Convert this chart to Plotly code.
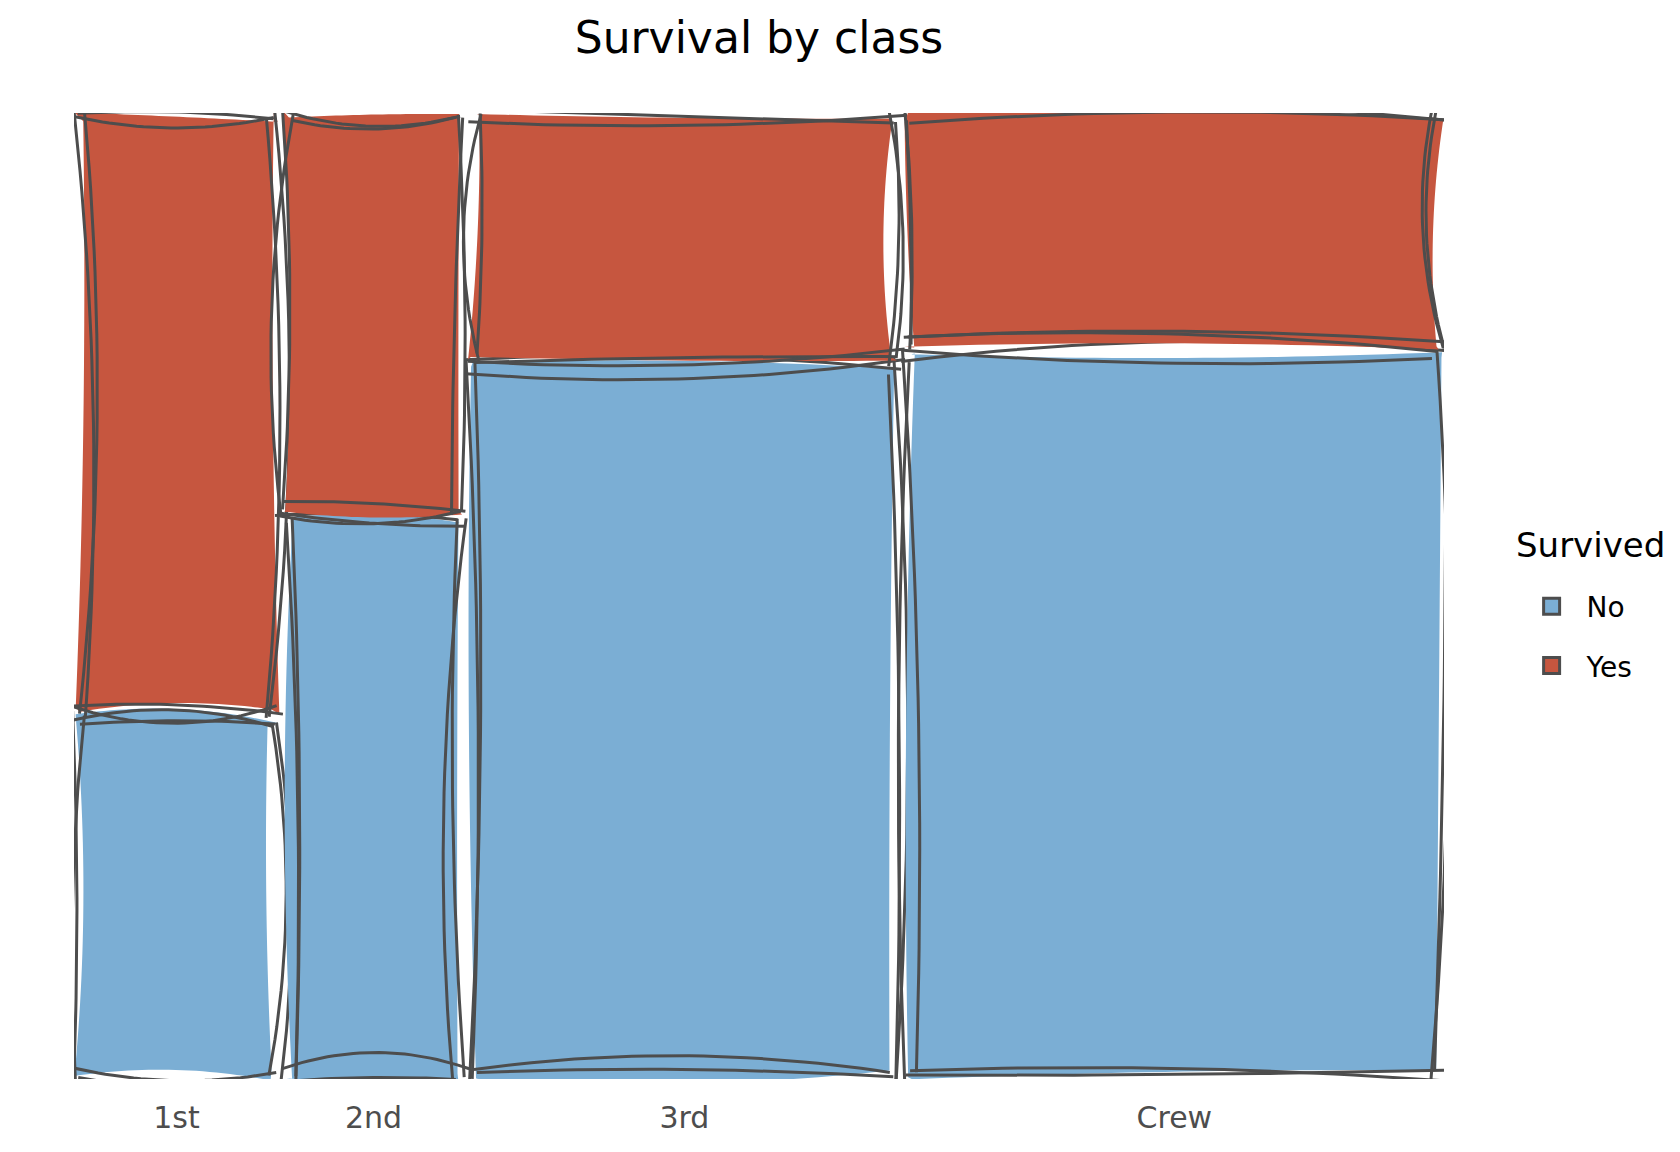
import numpy as np
import plotly.graph_objects as go

# %% Titanic counts by class and survival
classes = ["1st", "2nd", "3rd", "Crew"]
survived_no = [122, 167, 528, 673]
survived_yes = [203, 118, 178, 212]
groups = ["No", "Yes"]

colours = {"No": "#7BAED4", "Yes": "#C6563F"}
ink = "#4D4D4D"

# %% page geometry (pixels) used to scale the hand-drawn wobble
W, H = 1680, 1152
margin = dict(l=66, r=244, t=105, b=81, autoexpand=False)
SX = W - margin["l"] - margin["r"]
SY = H - margin["t"] - margin["b"]
gap_x, gap_y = 0.011, 0.012


def noise(k):
    # deterministic hash wiggle in [-1, 1] (style only, not data)
    v = np.sin(k * 78.233 + 12.9898) * 43758.5453
    return 2 * (v - np.floor(v)) - 1


def edge(p0, p1, k, bow=18.0, jit=8.0, over=6.0, n=30):
    (x0, y0), (x1, y1) = p0, p1
    dx, dy = x1 - x0, y1 - y0
    ln = np.hypot(dx, dy)
    ux, uy = dx / ln, dy / ln
    # endpoints jittered and pushed a little past the corners
    s0 = over * abs(noise(k + 5))
    s1 = over * abs(noise(k + 6))
    x0, y0 = x0 - ux * s0 + jit * noise(k), y0 - uy * s0 + jit * noise(k + 1)
    x1, y1 = x1 + ux * s1 + jit * noise(k + 2), y1 + uy * s1 + jit * noise(k + 3)
    dx, dy = x1 - x0, y1 - y0
    ln = np.hypot(dx, dy)
    nx, ny = -dy / ln, dx / ln
    b = bow * noise(k + 4)
    t = np.linspace(0, 1, n)
    off = 4 * t * (1 - t) * b
    return x0 + dx * t + nx * off, y0 + dy * t + ny * off


def sketch(x0, x1, y0, y1, seed):
    # rectangle in data units -> pixel space -> wobbly strokes back in data units
    X0, X1, Y0, Y1 = x0 * SX, x1 * SX, y0 * SY, y1 * SY
    corners = [(X0, Y0), (X1, Y0), (X1, Y1), (X0, Y1)]
    passes = []
    for p in range(3):
        xs, ys = [], []
        for e in range(4):
            a, b = corners[e], corners[(e + 1) % 4]
            k = seed * 97 + p * 31 + e * 7
            if p == 0:
                ex, ey = edge(a, b, k, bow=10.0, jit=6.0, over=0.0)
            else:
                ex, ey = edge(a, b, k)
            xs.append(ex / SX)
            ys.append(ey / SY)
        passes.append((xs, ys))
    return passes


# %% mosaic layout from the counts
totals = np.array(survived_no) + np.array(survived_yes)
widths = totals / totals.sum() * (1 - gap_x * (len(classes) - 1))
lefts = np.concatenate([[0], np.cumsum(widths + gap_x)[:-1]])
frac_no = np.array(survived_no) / totals

fig = go.Figure()
seed = 0
for i, c in enumerate(classes):
    x0, x1 = lefts[i], lefts[i] + widths[i]
    h_no = frac_no[i] * (1 - gap_y)
    boxes = {"No": (0, h_no), "Yes": (h_no + gap_y, 1)}
    for g in groups:
        y0, y1 = boxes[g]
        seed += 1
        passes = sketch(x0, x1, y0, y1, seed)
        # fill follows a gentler path, strokes are the two rough passes
        fx = np.concatenate(passes[0][0])
        fy = np.concatenate(passes[0][1])
        fig.add_trace(go.Scatter(x=fx, y=fy, fill="toself", fillcolor=colours[g],
                                 mode="none", showlegend=False, hoverinfo="skip"))
        lx, ly = [], []
        for xs, ys in passes[1:]:
            for ex, ey in zip(xs, ys):
                lx += list(ex) + [None]
                ly += list(ey) + [None]
        fig.add_trace(go.Scatter(x=lx, y=ly, mode="lines", line=dict(color=ink, width=3),
                                 showlegend=False, hoverinfo="skip"))

# legend entries
for g in groups:
    fig.add_trace(go.Scatter(x=[None], y=[None], mode="markers", name=g, legendgroup=g,
                             marker=dict(symbol="square", size=30, color=colours[g],
                                         line=dict(color=ink, width=3))))

fig.update_xaxes(range=[-0.004, 1.004], showgrid=False, zeroline=False, showline=False,
                 tickvals=lefts + widths / 2, ticktext=classes,
                 tickfont=dict(size=30, color=ink), ticks="outside", ticklen=12,
                 tickcolor="rgba(0,0,0,0)")
fig.update_yaxes(range=[-0.004, 1.004], showgrid=False, zeroline=False, showline=False,
                 showticklabels=False)
fig.update_layout(
    width=W, height=H, margin=margin,
    plot_bgcolor="white", paper_bgcolor="white",
    font=dict(family="DejaVu Sans", color="black"),
    title=dict(text="Survival by class", x=0.5, xref="paper", xanchor="center",
               y=1 - 30 / H, yref="container", yanchor="middle", font=dict(size=44)),
    legend=dict(font=dict(size=28), x=1.053, xanchor="left", y=0.515, yanchor="top",
                itemsizing="trace", itemwidth=60, tracegroupgap=20),
    annotations=[dict(text="Survived", x=1.051, xref="paper", xanchor="left",
                      y=0.553, yref="paper", yanchor="middle", showarrow=False,
                      font=dict(size=34, color="black"))],
)
fig.write_html("out.html")
